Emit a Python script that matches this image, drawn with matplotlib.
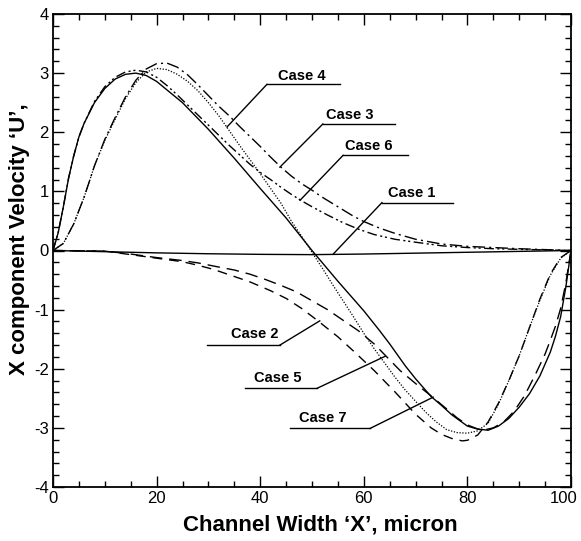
import matplotlib
matplotlib.use("Agg")
import matplotlib.pyplot as plt
import matplotlib.transforms as mtransforms
from matplotlib.ticker import MultipleLocator

plt.rcParams['font.family'] = ['Liberation Sans', 'DejaVu Sans']
plt.rcParams['axes.unicode_minus'] = False

# Case 7: solid full wave
x_case7 = [0, 1, 2, 3, 4, 5, 6, 8, 10, 12, 14, 16, 18, 20, 25, 30, 35, 40, 45, 50,
           55, 60, 63, 65, 68, 70, 73, 75, 77, 80, 82, 84, 86, 88, 90, 92, 94, 96, 97, 98, 99, 100]
u_case7 = [0, 0.3, 0.74, 1.22, 1.6, 1.92, 2.15, 2.5, 2.74, 2.9, 2.98, 3.0, 2.96, 2.86, 2.5, 2.05, 1.56, 1.05, 0.55, 0.0,
           -0.52, -1.02, -1.35, -1.58, -1.95, -2.17, -2.47, -2.62, -2.78, -2.97, -3.02, -3.04, -2.97, -2.84, -2.65, -2.42, -2.12, -1.72, -1.45, -1.12, -0.62, 0]

# Case 4: dotted full wave
x_case4 = [0, 2, 4, 6, 8, 10, 12, 14, 16, 18, 20, 22, 24, 26, 28, 30, 32, 34, 36, 38, 40, 42, 44, 46, 48, 50,
           52, 54, 56, 58, 60, 62, 64, 66, 68, 70, 72, 74, 76, 78, 80, 82, 84, 86, 88, 90, 92, 94, 96, 98, 100]
u_case4 = [0, 0.12, 0.45, 0.9, 1.43, 1.86, 2.22, 2.57, 2.84, 3.02, 3.08, 3.06, 2.98, 2.86, 2.7, 2.5, 2.28, 2.03, 1.78, 1.54, 1.3, 1.05, 0.8, 0.5, 0.24, -0.03,
           -0.3, -0.58, -0.85, -1.12, -1.4, -1.66, -1.9, -2.14, -2.36, -2.55, -2.74, -2.9, -3.03, -3.08, -3.09, -3.05, -2.92, -2.6, -2.2, -1.78, -1.3, -0.84, -0.42, -0.13, 0]

# Case 3: long dash-dot, positive lobe
x_case3 = [0, 2, 4, 6, 8, 10, 12, 14, 16, 18, 20, 22, 24, 26, 28, 30, 32, 34, 36, 38, 40, 42, 44, 46, 48, 50,
           52, 55, 58, 60, 63, 66, 70, 75, 80, 85, 90, 95, 100]
u_case3 = [0, 0.12, 0.45, 0.9, 1.43, 1.88, 2.25, 2.6, 2.88, 3.07, 3.16, 3.17, 3.1, 2.97, 2.8, 2.62, 2.44, 2.28, 2.1, 1.93, 1.76, 1.58, 1.41, 1.26, 1.13, 1.02,
           0.9, 0.74, 0.58, 0.49, 0.38, 0.29, 0.19, 0.11, 0.07, 0.05, 0.03, 0.015, 0]

# Case 6: dash-dot-dot, positive lobe
x_case6 = [0, 1, 2, 3, 4, 5, 6, 8, 10, 12, 14, 16, 18, 20, 22, 24, 26, 28, 30, 32, 34, 36, 38, 40, 42, 44, 46, 48, 50,
           53, 56, 59, 62, 66, 70, 75, 80, 85, 90, 95, 100]
u_case6 = [0, 0.3, 0.74, 1.22, 1.6, 1.92, 2.15, 2.52, 2.77, 2.93, 3.02, 3.05, 3.02, 2.93, 2.79, 2.63, 2.46, 2.29, 2.12, 1.95, 1.78, 1.62, 1.46, 1.32, 1.2, 1.07, 0.95, 0.84, 0.74,
           0.6, 0.47, 0.36, 0.27, 0.19, 0.14, 0.08, 0.05, 0.03, 0.02, 0.01, 0]

# Case 2: dashed, negative lobe (deeper)
x_case2 = [0, 10, 15, 20, 25, 28, 31, 34, 38, 42, 45, 48, 51, 55, 58, 62, 66, 70, 73, 75, 77, 79,
           80, 82, 84, 86, 88, 90, 92, 94, 96, 98, 100]
u_case2 = [0, -0.01, -0.07, -0.13, -0.19, -0.25, -0.32, -0.41, -0.53, -0.68, -0.81, -0.98, -1.18, -1.46, -1.7, -2.03, -2.39, -2.77, -3.0, -3.11, -3.18, -3.22,
           -3.21, -3.12, -2.9, -2.58, -2.2, -1.78, -1.3, -0.82, -0.4, -0.12, 0]

# Case 5: dashed, negative lobe
x_case5 = [0, 10, 15, 20, 25, 28, 32, 35, 38, 41, 44, 47, 50, 53, 56, 59, 62, 64, 67, 70, 73, 76, 78, 80, 82, 83,
           85, 87, 89, 91, 93, 95, 96, 97, 98, 99, 100]
u_case5 = [0, -0.01, -0.06, -0.12, -0.17, -0.21, -0.28, -0.33, -0.4, -0.49, -0.59, -0.7, -0.85, -1.0, -1.18, -1.36, -1.58, -1.76, -2.03, -2.25, -2.46, -2.68, -2.83, -2.95, -3.02, -3.04,
           -3.0, -2.9, -2.72, -2.46, -2.12, -1.75, -1.52, -1.28, -0.98, -0.55, 0]

# Case 1: near-zero line
x_case1 = [0, 10, 20, 30, 40, 50, 60, 70, 80, 90, 100]
u_case1 = [0, -0.02, -0.04, -0.055, -0.065, -0.07, -0.06, -0.045, -0.03, -0.015, 0]

# Annotations: label, text position, underline x-range and y, tip
labels = ["Case 4", "Case 3", "Case 6", "Case 1", "Case 2", "Case 5", "Case 7"]
label_text_xy = [(48.0, 2.95), (57.3, 2.29), (61.0, 1.76), (69.3, 0.97), (39.0, -1.41), (43.4, -2.15), (52.0, -2.83)]
underline_x = [(41.3, 55.4), (52.1, 66.0), (56.0, 68.5), (63.5, 77.2), (29.7, 43.8), (37.1, 51.0), (45.8, 61.2)]
underline_y = [2.81, 2.14, 1.61, 0.81, -1.60, -2.33, -3.01]
leader_from_x = [41.3, 52.1, 56.0, 63.5, 43.8, 51.0, 61.2]
tip_xy = [(33.6, 2.09), (43.8, 1.41), (47.7, 0.85), (54.1, -0.06), (51.5, -1.19), (64.1, -1.79), (73.4, -2.48)]

fig = plt.figure(figsize=(5.81, 5.41), dpi=100)
ax = fig.add_axes([53/581, 54/541, 518/581, 473/541])

lw = 1.0
ax.plot(x_case1, u_case1, color='black', lw=lw, ls='-')
ax.plot(x_case7, u_case7, color='black', lw=lw, ls='-')
ax.plot(x_case4, u_case4, color='black', lw=0.9, ls=(0, (1, 1.3)))
ax.plot(x_case3, u_case3, color='black', lw=lw, ls=(0, (9, 3, 1.5, 3)))
ax.plot(x_case6, u_case6, color='black', lw=lw, ls=(0, (7, 2.5, 1.5, 2, 1.5, 2.5)))
ax.plot(x_case2, u_case2, color='black', lw=lw, ls=(0, (7, 5)))
ax.plot(x_case5, u_case5, color='black', lw=lw, ls=(0, (9, 5)))

for i, lab in enumerate(labels):
    x0, x1 = underline_x[i]
    yy = underline_y[i]
    ax.plot([x0, x1], [yy, yy], color='black', lw=1.0)
    ax.plot([leader_from_x[i], tip_xy[i][0]], [yy, tip_xy[i][1]], color='black', lw=1.0)
    ax.text(label_text_xy[i][0], label_text_xy[i][1], lab, ha='center', va='center',
            fontsize=10.5, fontweight='bold')

ax.set_xlim(0, 100)
ax.set_ylim(-4, 4)
ax.xaxis.set_major_locator(MultipleLocator(20))
ax.xaxis.set_minor_locator(MultipleLocator(5))
ax.yaxis.set_major_locator(MultipleLocator(1))
ax.yaxis.set_minor_locator(MultipleLocator(0.2))
ax.tick_params(which='both', direction='in', top=True, right=True, width=1.0)
ax.tick_params(which='major', length=8, labelsize=12, pad=3)
ax.tick_params(which='minor', length=4.5)
for s in ax.spines.values():
    s.set_linewidth(1.3)

ax.set_xlabel('Channel Width \u2018X\u2019, micron', fontsize=16, fontweight='bold')
ax.set_ylabel('X component Velocity \u2018U\u2019,', fontsize=16, fontweight='bold')
ax.xaxis.set_label_coords(0.517, -0.058)
ax.yaxis.set_label_coords(-0.045, 0.524)

# shift the last x tick label ("100") slightly left so it stays inside the figure
fig.canvas.draw()
last = ax.xaxis.get_major_ticks()[-1]
for t in ax.xaxis.get_major_ticks():
    if abs(t.get_loc() - 100) < 1e-6:
        last = t
last.label1.set_transform(last.label1.get_transform() +
                          mtransforms.ScaledTranslation(-5/72, 0, fig.dpi_scale_trans))

fig.savefig('out.png', dpi=100)
